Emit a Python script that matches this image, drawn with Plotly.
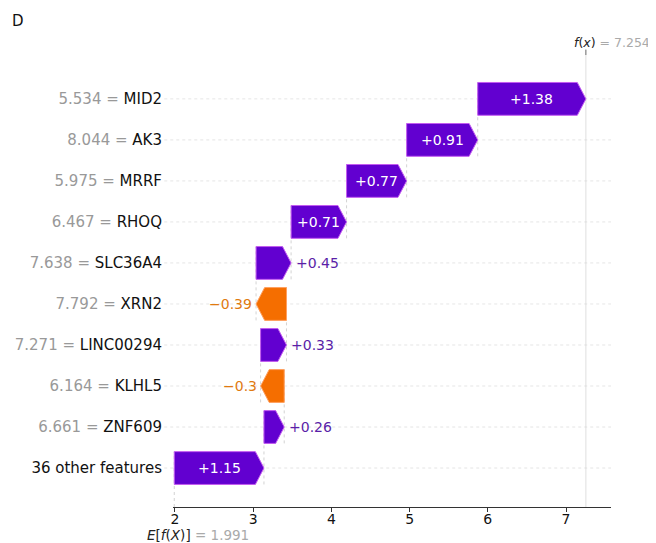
import plotly.graph_objects as go

# ---- data ----
feature_names = ["36 other features", "ZNF609", "KLHL5", "LINC00294", "XRN2",
                 "SLC36A4", "RHOQ", "MRRF", "AK3", "MID2"]
feature_values = ["", "6.661", "6.164", "7.271", "7.792",
                  "7.638", "6.467", "5.975", "8.044", "5.534"]
shap_values = [1.147, 0.259, -0.302, 0.331, -0.389,
               0.448, 0.709, 0.768, 0.909, 1.383]
shap_labels = ["+1.15", "+0.26", "\u22120.3", "+0.33", "\u22120.39",
               "+0.45", "+0.71", "+0.77", "+0.91", "+1.38"]
base_value = 1.991
fx_value = 7.254
x_ticks = [2, 3, 4, 5, 6, 7]
panel_label = "D"

POS = "#6200d0"
NEG = "#f56e00"
POS_EDGE = "#c35cf0"
NEG_EDGE = "#ffa060"
POS_TXT = "#5a1fa8"
NEG_TXT = "#e07a10"
FONT = "DejaVu Sans"

x_min, x_max = 1.975, 7.575
bar_h = 0.4
head = 0.11

fig = go.Figure()
shapes = []
annotations = []

n = len(feature_names)
# horizontal dotted row lines
for i in range(n):
    shapes.append(dict(type="line", xref="x domain", yref="y", x0=-0.02, x1=1, y0=i, y1=i,
                       line=dict(color="#dedede", width=0.8, dash="dot"), layer="below"))

cum = base_value
starts, ends = [], []
for i, v in enumerate(shap_values):
    s, e = cum, cum + v
    starts.append(s)
    ends.append(e)
    cum = e

for i, v in enumerate(shap_values):
    s, e = starts[i], ends[i]
    w = abs(v)
    hl = min(head, w)
    if v > 0:
        xs = [s, e - hl, e, e - hl, s, s]
        fill, edge, tcol = POS, POS_EDGE, POS_TXT
    else:
        xs = [s, e + hl, e, e + hl, s, s]
        fill, edge, tcol = NEG, NEG_EDGE, NEG_TXT
    ys = [i - bar_h, i - bar_h, i, i + bar_h, i + bar_h, i - bar_h]
    fig.add_trace(go.Scatter(x=xs, y=ys, fill="toself", fillcolor=fill, mode="lines",
                             line=dict(color=edge, width=1), hoverinfo="skip", showlegend=False))
    # label
    if w >= 0.6:
        annotations.append(dict(x=(s + e) / 2, y=i, xref="x", yref="y", text=shap_labels[i],
                                showarrow=False, font=dict(family=FONT, size=14, color="white")))
    else:
        if v > 0:
            annotations.append(dict(x=e, y=i, xref="x", yref="y", text=shap_labels[i], xanchor="left",
                                    xshift=3, showarrow=False, font=dict(family=FONT, size=14, color=tcol)))
        else:
            annotations.append(dict(x=e, y=i, xref="x", yref="y", text=shap_labels[i], xanchor="right",
                                    xshift=-2, showarrow=False, font=dict(family=FONT, size=14, color=tcol)))
    # vertical connectors
    if i < n - 1:
        shapes.append(dict(type="line", xref="x", yref="y", x0=e, x1=e, y0=i - bar_h, y1=i + 1 + bar_h,
                           line=dict(color="#c8c8c8", width=0.8, dash="dot"), layer="below"))

# base and f(x) lines
shapes.append(dict(type="line", xref="x", yref="y", x0=base_value, x1=base_value, y0=-0.95, y1=0.4,
                   line=dict(color="#c8c8c8", width=0.8, dash="dot"), layer="below"))
shapes.append(dict(type="line", xref="x", yref="paper", x0=fx_value, x1=fx_value, y0=0, y1=1,
                   line=dict(color="#d6d6d6", width=0.8), layer="below"))
# top tick mark for f(x)
shapes.append(dict(type="line", xref="x", yref="paper", x0=fx_value, x1=fx_value, y0=1, y1=1.012,
                   line=dict(color="#666666", width=1)))

annotations.append(dict(x=fx_value, y=1, xref="x", yref="paper", xanchor="left", yanchor="bottom",
                        xshift=-14, yshift=3, showarrow=False,
                        text="<i>f</i>(<i>x</i>) <span style='color:#aaaaaa'>= %.3f</span>" % fx_value,
                        font=dict(family=FONT, size=12.5, color="#222222")))
annotations.append(dict(x=base_value, y=0, xref="x", yref="paper", xanchor="left", yanchor="middle",
                        xshift=-28, yshift=-28, showarrow=False, borderpad=0,
                        text="<i>E</i>[<i>f</i>(<i>X</i>)] <span style='color:#aaaaaa'>= %.3f</span>" % base_value,
                        font=dict(family=FONT, size=13.5, color="#222222")))
annotations.append(dict(x=0, y=1, xref="paper", yref="paper", showarrow=False, text=panel_label,
                        xanchor="left", yanchor="top", xshift=-163, yshift=45,
                        font=dict(family=FONT, size=15, color="#111111")))

ticktext = []
for name, val in zip(feature_names, feature_values):
    if val:
        ticktext.append("<span style='color:#999999'>%s = </span>%s" % (val, name))
    else:
        ticktext.append(name)

fig.update_layout(
    width=648, height=542,
    margin=dict(l=165, r=45, t=47, b=43),
    paper_bgcolor="white", plot_bgcolor="white",
    shapes=shapes, annotations=annotations,
    font=dict(family=FONT, size=14, color="#111111"),
    xaxis=dict(range=[x_min, x_max], tickvals=x_ticks, showgrid=False, zeroline=False,
               showline=True, linecolor="#333333", linewidth=1.2, ticks="outside", ticklen=4,
               tickcolor="#333333", ticklabelstandoff=-5, automargin=False,
               tickfont=dict(family=FONT, size=14, color="#111111")),
    yaxis=dict(range=[-0.95, 10.07], tickvals=list(range(n)), ticktext=ticktext, showgrid=False,
               zeroline=False, showline=False, ticks="", ticklabelstandoff=10, automargin=False,
               tickfont=dict(family=FONT, size=15, color="#111111")),
)

fig.write_html("out.html")
